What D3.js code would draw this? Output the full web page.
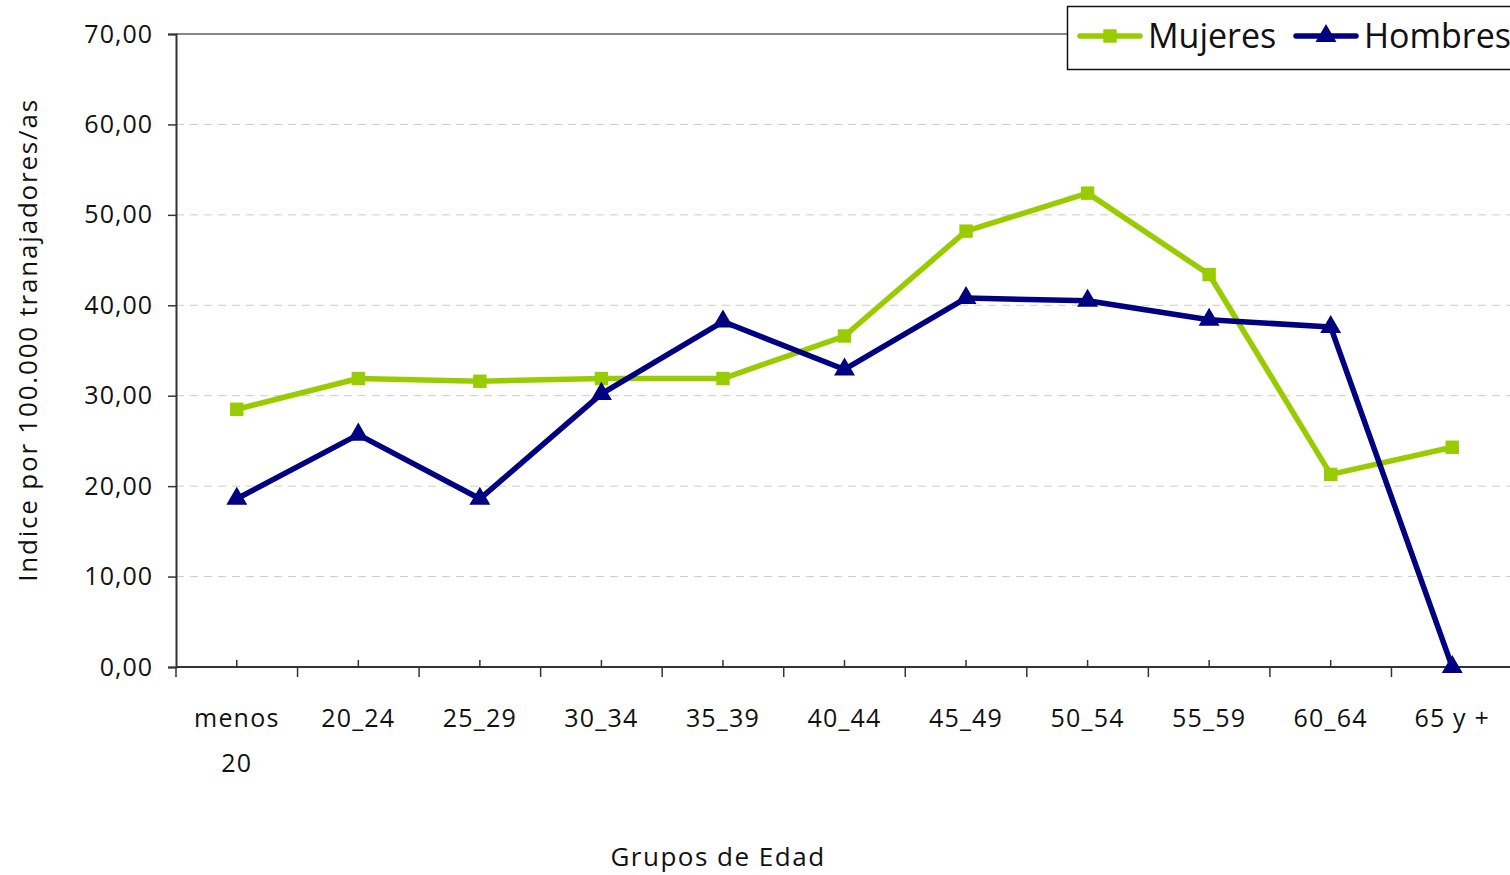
<!DOCTYPE html>
<html>
<head>
<meta charset="utf-8">
<script src="https://cdn.jsdelivr.net/npm/d3@7"></script>
<style>
  body { margin: 0; background: #fff; }
  text { font-family: "Open Sans", sans-serif; fill: #111; }
</style>
</head>
<body>
<svg id="chart" width="1510" height="875"></svg>
<script>
// data
var grupos = ["menos 20", "20_24", "25_29", "30_34", "35_39", "40_44", "45_49", "50_54", "55_59", "60_64", "65 y +"];
var mujeres = [28.5, 31.9, 31.6, 31.9, 31.9, 36.6, 48.2, 52.4, 43.4, 21.3, 24.3];
var hombres = [18.6, 25.7, 18.6, 30.2, 38.2, 32.9, 40.8, 40.5, 38.4, 37.6, 0];
var yTicks = [0, 10, 20, 30, 40, 50, 60, 70];

(function () {
var svg = d3.select("#chart");
var left = 176, right = 1513, plotTop = 34, bottom = 667;

var x = d3.scaleBand().domain(grupos).range([left, right]);
var y = d3.scaleLinear().domain([0, 70]).range([bottom, plotTop]);
var fmt = function (d) { return d3.format(".2f")(d).replace(".", ","); };

// grid lines
svg.append("g").selectAll("line")
  .data(yTicks.filter(function (d) { return d > 0 && d < 70; }))
  .enter().append("line")
  .attr("x1", left).attr("x2", 1510)
  .attr("y1", function (d) { return y(d); }).attr("y2", function (d) { return y(d); })
  .attr("stroke", "#cccccc").attr("stroke-width", 1).attr("stroke-dasharray", "8,6");

// top border of plot area
svg.append("line")
  .attr("x1", left).attr("x2", 1510).attr("y1", y(70)).attr("y2", y(70))
  .attr("stroke", "#888").attr("stroke-width", 2);

// y axis
var yAxis = svg.append("g").attr("transform", "translate(" + left + ",0)")
  .call(d3.axisLeft(y).tickValues(yTicks).tickFormat(fmt).tickSize(8).tickPadding(15));
yAxis.select(".domain").attr("stroke", "#333").attr("stroke-width", 2);
yAxis.selectAll(".tick line").attr("stroke", "#333").attr("stroke-width", 1.5);
yAxis.selectAll("text").attr("font-size", 25).attr("font-family", "Open Sans")
  .attr("letter-spacing", 1).attr("fill", "#111");

// x axis line
svg.append("line")
  .attr("x1", left).attr("x2", 1510).attr("y1", bottom).attr("y2", bottom)
  .attr("stroke", "#333").attr("stroke-width", 2);

// boundary ticks (down) and center ticks (up)
svg.append("g").selectAll("line")
  .data(grupos).enter().append("line")
  .attr("x1", function (d) { return x(d); }).attr("x2", function (d) { return x(d); })
  .attr("y1", bottom).attr("y2", bottom + 10)
  .attr("stroke", "#333").attr("stroke-width", 1.5);
svg.append("g").selectAll("line")
  .data(grupos).enter().append("line")
  .attr("x1", function (d) { return x(d) + x.bandwidth() / 2; }).attr("x2", function (d) { return x(d) + x.bandwidth() / 2; })
  .attr("y1", bottom).attr("y2", bottom - 7)
  .attr("stroke", "#333").attr("stroke-width", 1.5);

// x labels
var xl = svg.append("g").selectAll("text")
  .data(grupos).enter().append("text")
  .attr("text-anchor", "middle")
  .attr("font-size", 25)
  .attr("letter-spacing", 1.2)
  .attr("x", function (d) { return x(d) + x.bandwidth() / 2; })
  .attr("y", 727);
xl.each(function (d) {
  var parts = d === "menos 20" ? ["menos", "20"] : [d];
  var t = d3.select(this);
  parts.forEach(function (p, i) {
    t.append("tspan").attr("x", t.attr("x")).attr("dy", i === 0 ? 0 : 45).text(p);
  });
});

// axis titles
svg.append("text")
  .attr("text-anchor", "middle").attr("font-size", 26).attr("letter-spacing", 1.5)
  .attr("x", 718).attr("y", 866).text("Grupos de Edad");
svg.append("text")
  .attr("text-anchor", "middle").attr("font-size", 26).attr("letter-spacing", 1.8)
  .attr("transform", "translate(37,340) rotate(-90)")
  .text("Indice por 100.000 tranajadores/as");

var cx = function (d, i) { return x(grupos[i]) + x.bandwidth() / 2; };
var line = d3.line().x(cx).y(function (d) { return y(d); });

var verde = "#99cc00", azul = "#000080";

svg.append("path").datum(mujeres)
  .attr("d", line).attr("fill", "none").attr("stroke", verde).attr("stroke-width", 5.5)
  .attr("stroke-linejoin", "round");
svg.append("path").datum(hombres)
  .attr("d", line).attr("fill", "none").attr("stroke", azul).attr("stroke-width", 5.5)
  .attr("stroke-linejoin", "round");

var cuadro = d3.symbol().type(d3.symbolSquare).size(180);
var triang = d3.symbol().type(d3.symbolTriangle).size(190);

svg.append("g").selectAll("path").data(mujeres).enter().append("path")
  .attr("d", cuadro)
  .attr("transform", function (d, i) { return "translate(" + cx(d, i) + "," + y(d) + ")"; })
  .attr("fill", verde);
svg.append("g").selectAll("path").data(hombres).enter().append("path")
  .attr("d", triang)
  .attr("transform", function (d, i) { return "translate(" + cx(d, i) + "," + y(d) + ")"; })
  .attr("fill", azul);

// legend
var lg = svg.append("g");
lg.append("rect").attr("x", 1067.5).attr("y", 6.5).attr("width", 460).attr("height", 63)
  .attr("fill", "#fff").attr("stroke", "#111").attr("stroke-width", 1.5);
var items = [{ n: "Mujeres", c: verde, s: cuadro, x0: 1080 }, { n: "Hombres", c: azul, s: triang, x0: 1296 }];
items.forEach(function (it) {
  lg.append("line").attr("x1", it.x0).attr("x2", it.x0 + 60).attr("y1", 36).attr("y2", 36)
    .attr("stroke", it.c).attr("stroke-width", 5.5).attr("stroke-linecap", "round");
  lg.append("path").attr("d", it.s).attr("fill", it.c)
    .attr("transform", "translate(" + (it.x0 + 30) + ",36)");
  lg.append("text").attr("x", it.x0 + 68).attr("y", 48).attr("font-size", 34).text(it.n);
});
})();
</script>
</body>
</html>
